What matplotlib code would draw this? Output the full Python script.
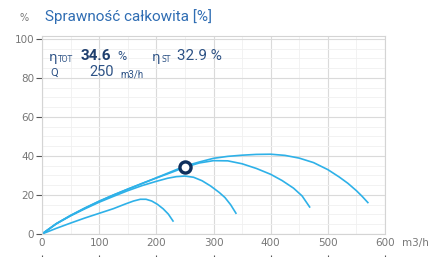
import matplotlib.pyplot as plt
from matplotlib.ticker import MultipleLocator

# Efficiency curves (flow m3/h, efficiency %)
q1 = [0, 25, 50, 75, 100, 125, 145, 160, 172, 182, 192, 202, 212, 221, 230]
e1 = [0, 2.9, 5.6, 8.2, 10.6, 13.0, 15.3, 16.9, 17.8, 17.8, 16.9, 15.2, 12.9, 10.2, 6.3]

q2 = [0, 25, 50, 75, 100, 125, 150, 175, 200, 220, 235, 250, 265, 280, 295, 310, 320, 330, 340]
e2 = [0, 5.2, 9.3, 12.9, 16.3, 19.3, 22.2, 24.8, 27.0, 28.6, 29.4, 29.7, 29.1, 27.3, 24.6,
      21.3, 18.7, 15.0, 10.3]

q3 = [0, 25, 50, 75, 100, 125, 150, 175, 200, 225, 250, 275, 300, 325, 350, 375, 400,
      420, 440, 455, 469]
e3 = [0, 5.3, 9.5, 13.3, 16.8, 20.0, 23.0, 25.9, 28.7, 31.4, 34.2, 36.4, 37.6, 37.5, 36.0,
      33.6, 30.6, 27.4, 23.5, 19.5, 13.5]

q4 = [0, 25, 50, 75, 100, 125, 150, 175, 200, 225, 250, 275, 300, 325, 350, 375, 400, 425,
      450, 475, 500, 520, 535, 550, 560, 571]
e4 = [0, 5.3, 9.5, 13.3, 16.8, 20.0, 23.0, 25.9, 28.8, 31.8, 34.8, 36.9, 38.8, 39.8, 40.4,
      40.8, 40.9, 40.3, 38.9, 36.6, 33.0, 29.2, 26.0, 22.2, 19.3, 15.8]

duty_q, duty_eff = 250, 34.6
eta_st = 32.9

W, H = 440, 257
fig = plt.figure(figsize=(W / 100, H / 100), dpi=100)
ax = fig.add_axes([42 / W, 1 - 234 / H, (385 - 42) / W, (234 - 36) / H])

blue = '#2eb1e8'
for q, e in [(q1, e1), (q2, e2), (q3, e3), (q4, e4)]:
    ax.plot(q, e, color=blue, lw=1.2, solid_capstyle='butt', solid_joinstyle='round')
ax.plot(duty_q, duty_eff, 'o', ms=8, mfc='white', mec='#0f2f5c', mew=2.4, zorder=5)

ax.set_xlim(0, 600)
ax.set_ylim(0, 101.5)
ax.xaxis.set_major_locator(MultipleLocator(100))
ax.xaxis.set_minor_locator(MultipleLocator(50))
ax.yaxis.set_major_locator(MultipleLocator(20))
ax.yaxis.set_minor_locator(MultipleLocator(5))
ax.grid(which='major', color='#dadada', lw=0.8)
ax.grid(which='minor', color='#f0f0f0', lw=0.6)
ax.set_axisbelow(True)
for s in ax.spines.values():
    s.set_color('#d4d4d4')
    s.set_linewidth(0.8)
ax.tick_params(axis='y', which='major', length=4, color='#555555', labelsize=7.5,
               labelcolor='#777777', pad=1.5)
ax.tick_params(axis='x', which='major', length=0, labelsize=7.5, labelcolor='#777777', pad=3)
ax.tick_params(which='minor', length=0)

# small tick marks below the x labels
sec = ax.secondary_xaxis(-0.105)
sec.xaxis.set_major_locator(MultipleLocator(100))
sec.tick_params(length=3, color='#555555', labelbottom=False)
sec.spines['bottom'].set_visible(False)

def fx(x):
    return x / W

def fy(y):
    return 1 - y / H

fig.text(fx(402), fy(243), 'm3/h', fontsize=7.5, color='#777777', va='center')
fig.text(fx(19), fy(18), '%', fontsize=7, color='#777777', va='center')
fig.text(fx(45), fy(17), 'Sprawność całkowita [%]', fontsize=11, color='#2f6db3',
         va='center', family='Roboto')

info = '#2d5285'
fig.text(fx(49), fy(58), 'η', fontsize=9.5, color=info, va='center')
fig.text(fx(58), fy(59.5), 'TOT', fontsize=5.5, color=info, va='center')
fig.text(fx(81), fy(56), f'{duty_eff}', fontsize=11, color='#1f3f6e', va='center',
         fontweight='bold', family='Roboto')
fig.text(fx(117), fy(56), '%', fontsize=9, color=info, va='center', family='Roboto')
fig.text(fx(152), fy(58), 'η', fontsize=9.5, color=info, va='center')
fig.text(fx(161), fy(59.5), 'ST', fontsize=5.5, color=info, va='center')
fig.text(fx(177), fy(56), f'{eta_st} %', fontsize=11, color=info, va='center',
         family='Roboto')
fig.text(fx(50), fy(73), 'Q', fontsize=8, color=info, va='center', family='Roboto')
fig.text(fx(89), fy(72), f'{duty_q}', fontsize=10.5, color=info, va='center', family='Roboto')
fig.text(fx(120), fy(74), 'm3/h', fontsize=7, color=info, va='center', family='Roboto')

fig.savefig('out.png', dpi=100)
